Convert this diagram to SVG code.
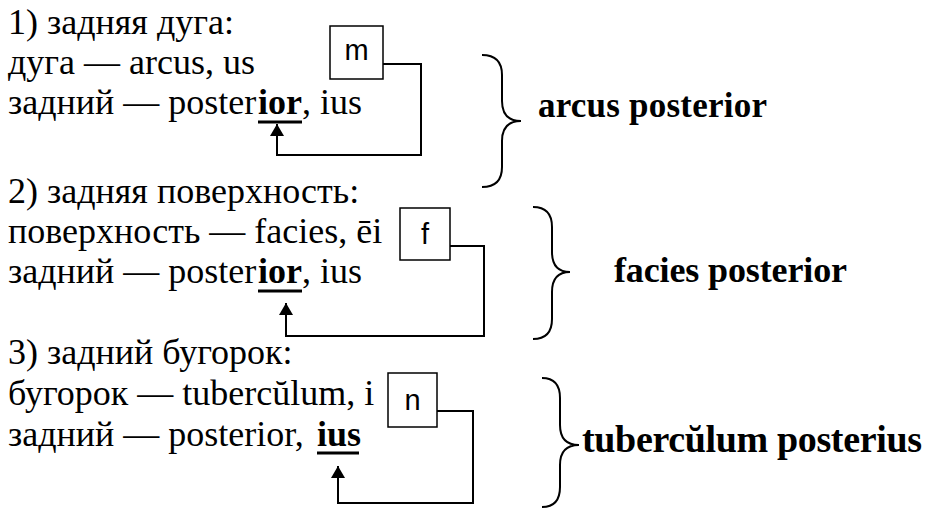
<svg xmlns="http://www.w3.org/2000/svg" width="946" height="508" viewBox="0 0 946 508">
<defs>
<style>
.t{font-family:"Liberation Serif","Times New Roman",serif;font-size:36px;fill:#000}
.b{font-weight:bold}
.box{fill:#fff;stroke:#000;stroke-width:1.5}
.lbl{font-family:"Liberation Sans",Arial,sans-serif;font-size:29px;fill:#000;text-anchor:middle}
.con{fill:none;stroke:#000;stroke-width:2}
.ul{stroke:#000;stroke-width:3}
.brace{fill:none;stroke:#000;stroke-width:2}
</style>
<marker id="ah" markerUnits="userSpaceOnUse" markerWidth="16" markerHeight="16" refX="12" refY="7" orient="auto">
<path d="M0,0 L12,7 L0,14 Z" fill="#000"/>
</marker>
</defs>
<rect width="946" height="508" fill="#fff"/>

<g id="section1">
<text class="t" x="8" y="34">1) задняя дуга:</text>
<text class="t" x="8" y="74">дуга — arcus, us</text>
<text class="t" x="8" y="114">задний — poster<tspan class="b" x="258">ior</tspan>, ius</text>
<line class="ul" x1="258" y1="122" x2="302" y2="122"/>
</g>
<g id="box-m">
<rect class="box" x="330" y="26" width="53" height="53"/>
<text class="lbl" x="356.5" y="60">m</text>
</g>

<g id="section2">
<text class="t" x="8" y="203">2) задняя поверхность:</text>
<text class="t" x="8" y="243">поверхность — facies, ēi</text>
<text class="t" x="8" y="283">задний — poster<tspan class="b" x="258">ior</tspan>, ius</text>
<line class="ul" x1="258" y1="291" x2="302" y2="291"/>
</g>
<g id="box-f">
<rect class="box" x="400" y="208" width="50" height="52"/>
<text class="lbl" x="425" y="244">f</text>
</g>

<g id="section3">
<text class="t" x="8" y="364">3) задний бугорок:</text>
<text class="t" x="8" y="405">бугорок — tubercŭlum, i</text>
<text class="t" x="8" y="446">задний — posterior,<tspan class="b" x="317">ius</tspan></text>
<line class="ul" x1="317" y1="453" x2="359" y2="453"/>
</g>
<g id="box-n">
<rect class="box" x="388" y="373" width="49" height="54"/>
<text class="lbl" x="412.5" y="410">n</text>
</g>

<g id="connectors">
<polyline class="con" points="383,64 421,64 421,155 277,155 277,124" marker-end="url(#ah)"/>
<polyline class="con" points="450,246 484,246 484,336 286,336 286,303" marker-end="url(#ah)"/>
<polyline class="con" points="437,411 473,411 473,503 338,503 338,466" marker-end="url(#ah)"/>
</g>

<g id="result1">
<path class="brace" d="M482,55 Q502,55 502,75 L502,101 Q502,121 521,121 Q502,121 502,141 L502,167 Q502,187 482,187"/>
<text class="t b" x="538" y="117" style="font-size:35px" textLength="229">arcus posterior</text>
</g>
<g id="result2">
<path class="brace" d="M533,207 Q552,207 552,227 L552,252 Q552,272 570,272 Q552,272 552,292 L552,319 Q552,339 533,339"/>
<text class="t b" x="614" y="282" textLength="233">facies posterior</text>
</g>
<g id="result3">
<path class="brace" d="M542,378 Q560,378 560,398 L560,425 Q560,445 579,445 Q560,445 560,465 L560,487 Q560,507 542,507"/>
<text class="t b" x="582" y="452" style="font-size:38px" textLength="340">tubercŭlum posterius</text>
</g>
</svg>
